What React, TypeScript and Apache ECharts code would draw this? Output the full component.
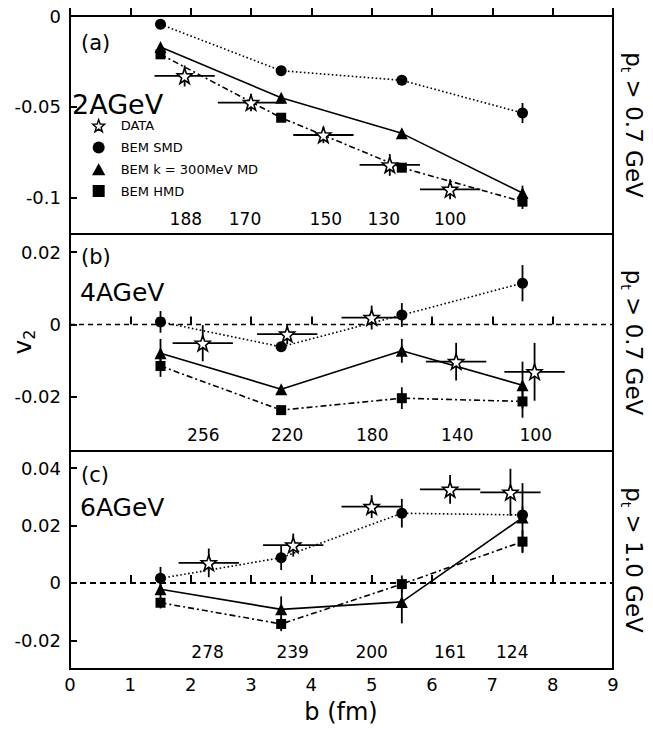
import React, { useEffect, useRef } from "react";
import * as echarts from "echarts";

// Impact-parameter positions of the BEM model points (fm)
const B_MODEL = [1.5, 3.5, 5.5, 7.5];

// ---- 2 AGeV, pt > 0.7 GeV ----
const smdA = [-0.0046, -0.0301, -0.0354, -0.0534];
const mdA = [-0.0171, -0.045, -0.0646, -0.0974];
const hmdA = [-0.0211, -0.056, -0.0835, -0.1022];
const smdErrA = [0, 0, 0, 0.0055];
const mdErrA = [0, 0, 0, 0.004];
const hmdErrA = [0, 0, 0, 0.004];
const dataBA = [1.9, 3.0, 4.2, 5.3, 6.3];
const dataA = [-0.033, -0.0477, -0.0655, -0.082, -0.0954];
const dataBErrA = [0.5, 0.55, 0.5, 0.5, 0.5];
const dataErrA = [0.0058, 0.0047, 0.0045, 0.006, 0.0055];
const npartA = ["188", "170", "150", "130", "100"];
const npartBA = [1.92, 2.9, 4.24, 5.2, 6.3];

// ---- 4 AGeV, pt > 0.7 GeV ----
const smdB = [0.0007, -0.0062, 0.0026, 0.0114];
const mdB = [-0.008, -0.0179, -0.0073, -0.0168];
const hmdB = [-0.0115, -0.0237, -0.0204, -0.0213];
const smdErrB = [0.003, 0, 0.0033, 0.005];
const mdErrB = [0.004, 0, 0.0033, 0.0065];
const hmdErrB = [0.003, 0, 0.003, 0.0045];
const dataBB = [2.2, 3.6, 5.0, 6.4, 7.7];
const dataB = [-0.0052, -0.0027, 0.0019, -0.0103, -0.0131];
const dataBErrB = [0.5, 0.5, 0.5, 0.5, 0.5];
const dataErrB = [0.005, 0.0028, 0.0033, 0.0052, 0.008];
const npartB = ["256", "220", "180", "140", "100"];
const npartBB = [2.21, 3.6, 5.01, 6.42, 7.72];

// ---- 6 AGeV, pt > 1.0 GeV ----
const smdC = [0.0016, 0.0088, 0.0243, 0.0237];
const mdC = [-0.0022, -0.0092, -0.0066, 0.0228];
const hmdC = [-0.0069, -0.0143, -0.0004, 0.0144];
const smdErrC = [0.004, 0.0043, 0.005, 0.003];
const mdErrC = [0.003, 0.0045, 0.0075, 0.012];
const hmdErrC = [0.002, 0.0025, 0.003, 0.004];
const dataBC = [2.3, 3.7, 5.0, 6.3, 7.3];
const dataC = [0.007, 0.0132, 0.0266, 0.0326, 0.0316];
const dataBErrC = [0.5, 0.5, 0.5, 0.5, 0.5];
const dataErrC = [0.005, 0.004, 0.004, 0.005, 0.0082];
const npartC = ["278", "239", "200", "161", "124"];
const npartBC = [2.28, 3.69, 5.0, 6.3, 7.33];

// Axis ranges and tick labels
const Y_RANGES = [
  [-0.12, 0],
  [-0.035, 0.025],
  [-0.03, 0.046],
];
const Y_TICKS = [
  [0, -0.05, -0.1],
  [0.02, 0, -0.02],
  [0.04, 0.02, 0, -0.02],
];
const X_TICKS = [0, 1, 2, 3, 4, 5, 6, 7, 8, 9];

const PANEL_TAGS = ["(a)", "(b)", "(c)"];
const ENERGIES = ["2AGeV", "4AGeV", "6AGeV"];
const PT_CUTS = ["0.7", "0.7", "1.0"];
const LEGEND_NAMES = ["DATA", "BEM SMD", "BEM k = 300MeV MD", "BEM HMD"];

const FONT = "DejaVu Sans";
const W = 653;
const H = 729;
const GRID_LEFT = 70;
const GRID_RIGHT = 40;
const GRID_TOPS = [16, 234, 451];
const GRID_HEIGHTS = [218, 217, 218];
const NPART_Y = [-0.1115, -0.0307, -0.0239];

const STAR =
  "path://M0,-10L2.35,-3.24L9.51,-3.09L3.8,2.36L5.88,9.09L0,5.1L-5.88,9.09L-3.8,2.36L-9.51,-3.09L-2.35,-3.24Z";
const CIRCLE = "path://M0,-5A5,5,0,1,1,0,5A5,5,0,1,1,0,-5Z";
const TRIANGLE = "path://M0,-5L5,4L-5,4Z";
const SQUARE = "path://M-5,-5H5V5H-5Z";

const panels = [
  { smd: smdA, md: mdA, hmd: hmdA, smdErr: smdErrA, mdErr: mdErrA, hmdErr: hmdErrA,
    dB: dataBA, d: dataA, dBErr: dataBErrA, dErr: dataErrA, np: npartA, npB: npartBA },
  { smd: smdB, md: mdB, hmd: hmdB, smdErr: smdErrB, mdErr: mdErrB, hmdErr: hmdErrB,
    dB: dataBB, d: dataB, dBErr: dataBErrB, dErr: dataErrB, np: npartB, npB: npartBB },
  { smd: smdC, md: mdC, hmd: hmdC, smdErr: smdErrC, mdErr: mdErrC, hmdErr: hmdErrC,
    dB: dataBC, d: dataC, dBErr: dataBErrC, dErr: dataErrC, np: npartC, npB: npartBC },
];

function pairs(xs: number[], ys: number[]) {
  return xs.map((x, i) => [x, ys[i]]);
}

function buildOption() {
  const grid: any[] = [];
  const xAxis: any[] = [];
  const yAxis: any[] = [];
  const series: any[] = [];

  panels.forEach((p, i) => {
    grid.push({
      left: GRID_LEFT,
      right: GRID_RIGHT,
      top: GRID_TOPS[i],
      height: GRID_HEIGHTS[i],
      show: true,
      borderColor: "#000",
      borderWidth: 2,
      backgroundColor: "transparent",
      containLabel: false,
      outerBoundsMode: "none",
    });
    xAxis.push({
      type: "value",
      gridIndex: i,
      min: 0,
      max: 9,
      interval: 1,
      axisLine: { show: false },
      splitLine: { show: false },
      axisTick: {
        show: true,
        inside: true,
        length: 8,
        lineStyle: { color: "#000", width: 2 },
      },
      axisLabel: {
        show: i === 2,
        margin: 6,
        color: "#000",
        fontFamily: FONT,
        fontSize: 18,
        customValues: X_TICKS,
      },
    });
    yAxis.push({
      type: "value",
      gridIndex: i,
      min: Y_RANGES[i][0],
      max: Y_RANGES[i][1],
      axisLine: { show: false },
      splitLine: { show: false },
      axisTick: {
        show: true,
        inside: true,
        length: 7,
        customValues: Y_TICKS[i],
        lineStyle: { color: "#000", width: 2 },
      },
      axisLabel: {
        show: true,
        margin: 9,
        color: "#000",
        fontFamily: FONT,
        fontSize: 18,
        customValues: Y_TICKS[i],
        formatter: (v: number) => String(+Number(v).toFixed(3)),
      },
    });

    // participant numbers along the bottom, plus the zero reference line
    series.push({
      type: "scatter",
      name: "npart" + i,
      xAxisIndex: i,
      yAxisIndex: i,
      z: 1,
      silent: true,
      symbolSize: 1,
      itemStyle: { color: "rgba(0,0,0,0)", opacity: 1 },
      label: {
        show: true,
        position: "inside",
        color: "#000",
        opacity: 1,
        textBorderWidth: 0,
        fontFamily: FONT,
        fontSize: 17,
        formatter: (q: any) => q.data[2],
      },
      data: p.npB.map((x, k) => [x, NPART_Y[i], p.np[k]]),
      markLine:
        i === 0
          ? undefined
          : {
              silent: true,
              symbol: ["none", "none"],
              label: { show: false },
              lineStyle: {
                color: "#000",
                opacity: 1,
                width: i === 2 ? 2 : 1.3,
                type: i === 2 ? [6, 4] : [5, 4],
              },
              data: [{ yAxis: 0 }],
            },
    });

    // error bars: [b, v2, bErr, v2Err]
    const errPts: number[][] = [];
    B_MODEL.forEach((b, k) => {
      errPts.push([b, p.smd[k], 0, p.smdErr[k]]);
      errPts.push([b, p.md[k], 0, p.mdErr[k]]);
      errPts.push([b, p.hmd[k], 0, p.hmdErr[k]]);
    });
    p.dB.forEach((b, k) => errPts.push([b, p.d[k], p.dBErr[k], p.dErr[k]]));
    series.push({
      type: "custom",
      name: "err" + i,
      xAxisIndex: i,
      yAxisIndex: i,
      z: 2,
      silent: true,
      encode: { x: 0, y: 1 },
      data: errPts,
      renderItem: (_params: any, api: any) => {
        const x = api.value(0);
        const y = api.value(1);
        const xe = api.value(2);
        const ye = api.value(3);
        const kids: any[] = [];
        const seg = (a: number[], b: number[]) => ({
          type: "line",
          shape: { x1: a[0], y1: a[1], x2: b[0], y2: b[1] },
          style: { stroke: "#000", lineWidth: 1.8 },
        });
        if (ye > 0) kids.push(seg(api.coord([x, y - ye]), api.coord([x, y + ye])));
        if (xe > 0) kids.push(seg(api.coord([x - xe, y]), api.coord([x + xe, y])));
        return { type: "group", children: kids };
      },
    });

    const lineBase = {
      type: "line",
      xAxisIndex: i,
      yAxisIndex: i,
      z: 3,
      silent: true,
      itemStyle: { color: "#000", opacity: 1 },
    };
    series.push({
      ...lineBase,
      name: LEGEND_NAMES[1],
      symbol: "circle",
      symbolSize: 11,
      lineStyle: { color: "#000", width: 1.6, type: [1.6, 2.4] },
      data: pairs(B_MODEL, p.smd),
    });
    series.push({
      ...lineBase,
      name: LEGEND_NAMES[2],
      symbol: "triangle",
      symbolSize: 12,
      lineStyle: { color: "#000", width: 1.6, type: "solid" },
      data: pairs(B_MODEL, p.md),
    });
    series.push({
      ...lineBase,
      name: LEGEND_NAMES[3],
      symbol: "rect",
      symbolSize: 10,
      lineStyle: { color: "#000", width: 1.6, type: [6, 3, 2, 3] },
      data: pairs(B_MODEL, p.hmd),
    });
    series.push({
      type: "scatter",
      name: LEGEND_NAMES[0],
      xAxisIndex: i,
      yAxisIndex: i,
      z: 4,
      silent: true,
      symbol: STAR,
      symbolSize: 15,
      itemStyle: { color: "#fff", borderColor: "#000", borderWidth: 1.6, opacity: 1 },
      data: pairs(p.dB, p.d),
    });
  });

  const graphic: any[] = [];
  const tagY = [43, 257, 475];
  const energyY = [104, 292, 507];
  const energySize = [27, 25, 25];
  panels.forEach((_p, i) => {
    graphic.push({
      type: "text",
      x: 81,
      y: tagY[i],
      style: {
        text: PANEL_TAGS[i],
        fontFamily: FONT,
        fontSize: 21,
        fill: "#000",
        verticalAlign: "middle",
      },
    });
    graphic.push({
      type: "text",
      x: i === 0 ? 72 : 80,
      y: energyY[i],
      style: {
        text: ENERGIES[i],
        fontFamily: FONT,
        fontSize: energySize[i],
        fill: "#000",
        verticalAlign: "middle",
      },
    });
    const cy = GRID_TOPS[i] + GRID_HEIGHTS[i] / 2;
    graphic.push({
      type: "text",
      x: 634,
      y: cy,
      rotation: -Math.PI / 2,
      style: {
        text: "{m|p}{s|t}{m| > " + PT_CUTS[i] + " GeV}",
        align: "center",
        verticalAlign: "middle",
        fill: "#000",
        rich: {
          m: { fontFamily: FONT, fontSize: 23, lineHeight: 30, fill: "#000", verticalAlign: "middle" },
          s: { fontFamily: FONT, fontSize: 14, lineHeight: 30, fill: "#000", verticalAlign: "bottom" },
        },
      },
    });
  });
  graphic.push({
    type: "text",
    x: 22,
    y: 342,
    rotation: Math.PI / 2,
    style: {
      text: "{m|v}{s|2}",
      align: "center",
      verticalAlign: "middle",
      fill: "#000",
      rich: {
        m: { fontFamily: FONT, fontSize: 25, lineHeight: 30, fill: "#000", verticalAlign: "middle" },
        s: { fontFamily: FONT, fontSize: 16, lineHeight: 30, fill: "#000", verticalAlign: "bottom" },
      },
    },
  });
  graphic.push({
    type: "text",
    x: 341,
    y: 712,
    style: {
      text: "b (fm)",
      fontFamily: FONT,
      fontSize: 24,
      fill: "#000",
      align: "center",
      verticalAlign: "middle",
    },
  });

  const legendIcons = [STAR, CIRCLE, TRIANGLE, SQUARE];
  return {
    animation: false,
    backgroundColor: "#fff",
    grid,
    xAxis,
    yAxis,
    series,
    graphic,
    legend: {
      show: true,
      orient: "vertical",
      left: 87,
      top: 114,
      itemWidth: 34,
      itemHeight: 12,
      itemGap: 8.7,
      selectedMode: false,
      symbolKeepAspect: true,
      textStyle: { fontFamily: FONT, fontSize: 13, color: "#000", lineHeight: 13 },
      data: LEGEND_NAMES.map((name, k) => ({
        name,
        icon: legendIcons[k],
        itemStyle:
          k === 0
            ? { color: "#fff", borderColor: "#000", borderWidth: 1.4, opacity: 1 }
            : { color: "#000", borderWidth: 0, opacity: 1 },
      })),
    },
  };
}

export default function App() {
  const ref = useRef<HTMLDivElement>(null);
  useEffect(() => {
    document.body.style.margin = "0";
    const chart = echarts.init(ref.current!, undefined, { renderer: "svg" });
    chart.setOption(buildOption() as any);
    return () => chart.dispose();
  }, []);
  return <div ref={ref} style={{ width: W, height: H }} />;
}
